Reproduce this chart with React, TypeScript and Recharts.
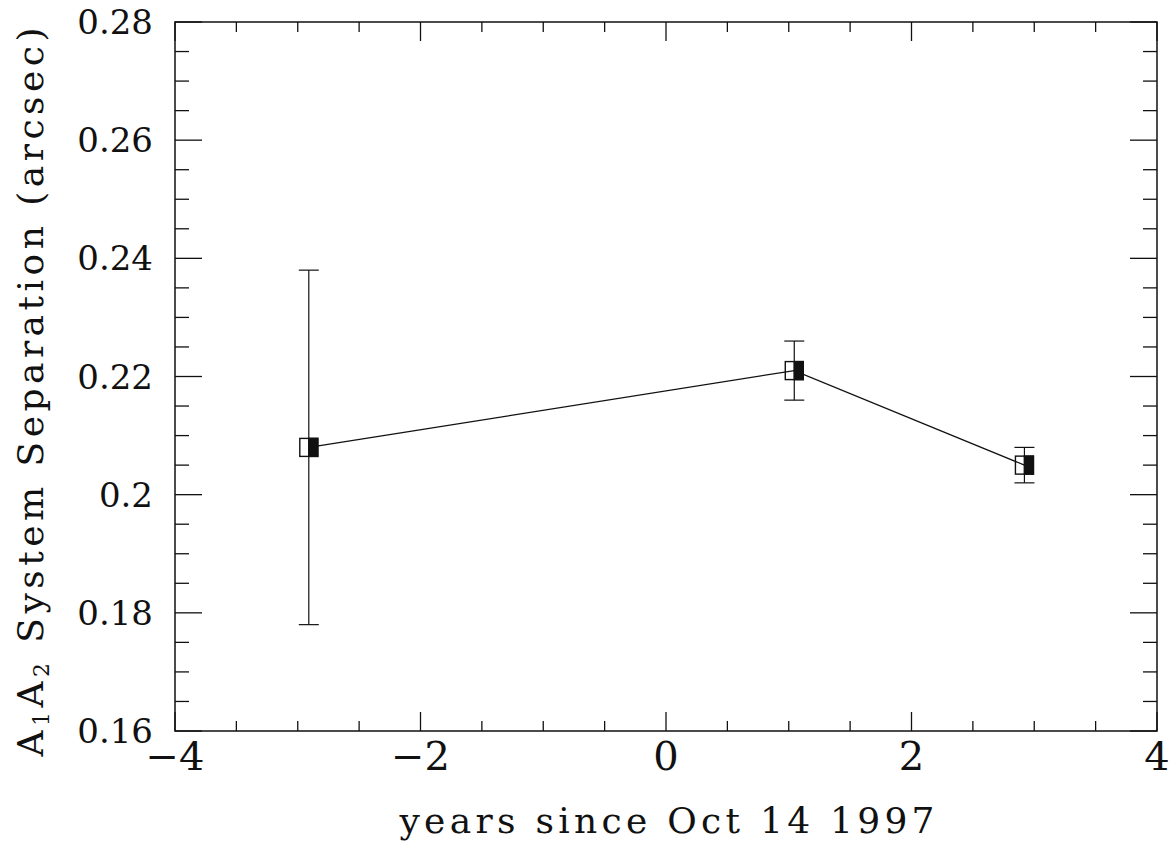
import React from "react";
import { ScatterChart, Scatter, XAxis, YAxis, ErrorBar, ReferenceArea, Customized } from "recharts";

// ---- data ----
const years = [-2.91, 1.045, 2.92];
const separation = [0.208, 0.221, 0.205];
const separationError = [0.03, 0.005, 0.003];

const xTicks = [-4, -3.5, -3, -2.5, -2, -1.5, -1, -0.5, 0, 0.5, 1, 1.5, 2, 2.5, 3, 3.5, 4];
const xMajorTicks = [-4, -2, 0, 2, 4];
const xTickLabels = ["\u22124", "\u22122", "0", "2", "4"];

const yTicks = [0.16, 0.165, 0.17, 0.175, 0.18, 0.185, 0.19, 0.195, 0.2, 0.205, 0.21, 0.215, 0.22, 0.225, 0.23, 0.235, 0.24, 0.245, 0.25, 0.255, 0.26, 0.265, 0.27, 0.275, 0.28];
const yMajorTicks = [0.16, 0.18, 0.2, 0.22, 0.24, 0.26, 0.28];
const yTickLabels = ["0.16", "0.18", "0.2", "0.22", "0.24", "0.26", "0.28"];

const xTitle = "years since Oct 14 1997";

const data = years.map((x, i) => ({ x, y: separation[i], err: separationError[i] }));

// ---- layout ----
const W = 1174;
const H = 851;
const PLOT_LEFT = 175;
const PLOT_TOP = 22;
const PLOT_RIGHT = 1157;
const PLOT_BOTTOM = 731;
const PLOT_W = PLOT_RIGHT - PLOT_LEFT;
const PLOT_H = PLOT_BOTTOM - PLOT_TOP;
const FONT = "DejaVu Serif";
const INK = "#111";

const majorIndex = (list: number[], v: number) => list.findIndex((m) => Math.abs(m - v) < 1e-9);

const XTick = (props: any) => {
  const { x, y, payload } = props;
  const idx = majorIndex(xMajorTicks, payload.value);
  const len = idx >= 0 ? 19 : 10;
  return (
    <g>
      <line x1={x} x2={x} y1={y} y2={y - len} stroke={INK} strokeWidth={1.3} />
      <line x1={x} x2={x} y1={y - PLOT_H} y2={y - PLOT_H + len} stroke={INK} strokeWidth={1.3} />
      {idx >= 0 && (
        <text x={x} y={y + 39} textAnchor="middle" style={{ fontFamily: FONT, fontSize: 40 }} fill={INK} fontWeight={300}>
          {xTickLabels[idx]}
        </text>
      )}
    </g>
  );
};

const YTick = (props: any) => {
  const { x, y, payload } = props;
  const idx = majorIndex(yMajorTicks, payload.value);
  const len = idx >= 0 ? 27 : 14;
  const label = idx >= 0 ? yTickLabels[idx] : "";
  return (
    <g>
      <line x1={x} x2={x + len} y1={y} y2={y} stroke={INK} strokeWidth={1.3} />
      <line x1={x + PLOT_W} x2={x + PLOT_W - len} y1={y} y2={y} stroke={INK} strokeWidth={1.3} />
      {idx >= 0 && (
        <text
          x={x - 22}
          y={y + 12}
          textAnchor="end"
          style={{ fontFamily: FONT, fontSize: 34 }}
          fill={INK}
        >
          {label}
        </text>
      )}
    </g>
  );
};

const Marker = (props: any) => {
  const { cx, cy } = props;
  if (cx == null || cy == null) return null;
  const s = 9;
  return (
    <g>
      <rect x={cx - s} y={cy - s} width={2 * s} height={2 * s} fill="none" stroke={INK} strokeWidth={1.4} />
      <rect x={cx} y={cy - s} width={s} height={2 * s} fill={INK} stroke={INK} strokeWidth={1.4} />
    </g>
  );
};

const Titles = () => (
  <g>
    <text
      x={667}
      y={833}
      textAnchor="middle"
      style={{ fontFamily: FONT, fontSize: 36 }}
      fill={INK}
      textLength={535}
      lengthAdjust="spacing"
    >
      {xTitle}
    </text>
    <text
      transform="translate(43, 392) rotate(-90)"
      x={0}
      y={0}
      textAnchor="middle"
      style={{ fontFamily: FONT, fontSize: 36 }}
      fill={INK}
      textLength={729}
      lengthAdjust="spacing"
    >
      <tspan>A</tspan>
      <tspan dy={6} style={{ fontSize: 22 }}>1</tspan>
      <tspan dy={-6}>A</tspan>
      <tspan dy={6} style={{ fontSize: 22 }}>2</tspan>
      <tspan dy={-6}> System Separation (arcsec)</tspan>
    </text>
  </g>
);

export default function App() {
  return (
    <div style={{ position: "absolute", left: 0, top: 0, width: W, height: H, background: "#fff" }}>
      <ScatterChart
        width={W}
        height={H}
        margin={{ top: PLOT_TOP, right: W - PLOT_RIGHT, bottom: H - PLOT_BOTTOM - 30, left: PLOT_LEFT - 60 }}
      >
        <XAxis
          type="number"
          dataKey="x"
          domain={[-4, 4]}
          ticks={xTicks}
          interval={0}
          tickSize={0}
          tickMargin={0}
          axisLine={false}
          tickLine={false}
          tick={<XTick />}
          height={30}
          allowDataOverflow
        />
        <YAxis
          type="number"
          dataKey="y"
          domain={[0.16, 0.28]}
          ticks={yTicks}
          interval={0}
          tickSize={0}
          tickMargin={0}
          axisLine={false}
          tickLine={false}
          tick={<YTick />}
          width={60}
          allowDataOverflow
        />
        <ReferenceArea x1={-4} x2={4} y1={0.16} y2={0.28} fill="none" stroke={INK} strokeWidth={1.5} fillOpacity={0} />
        <Scatter
          data={data}
          line={{ stroke: INK, strokeWidth: 1.2 }}
          lineType="joint"
          shape={<Marker />}
          isAnimationActive={false}
        >
          <ErrorBar dataKey="err" direction="y" width={10} stroke={INK} strokeWidth={1.2} isAnimationActive={false} />
        </Scatter>
        <Customized component={Titles} />
      </ScatterChart>
    </div>
  );
}
